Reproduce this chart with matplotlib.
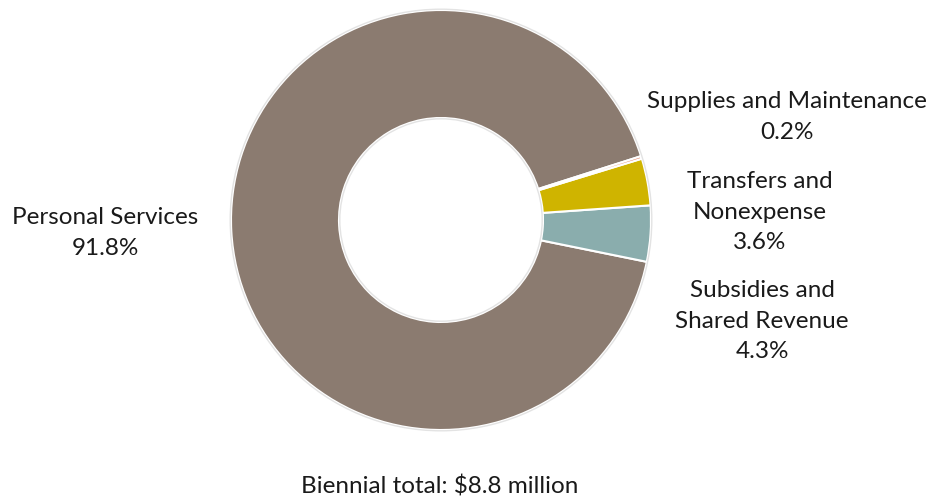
import matplotlib.pyplot as plt
from matplotlib.patches import Circle

# Budget shares (percent), drawn counterclockwise from the start angle
categories = ['Personal Services', 'Subsidies and\nShared Revenue',
              'Transfers and\nNonexpense', 'Supplies and Maintenance']
shares = [91.8, 4.3, 3.6, 0.2]
colors = ['#8b7b70', '#8aadad', '#cfb400', '#e07b5a']
total_label = 'Biennial total: $8.8 million'

plt.rcParams['font.family'] = ['Lato', 'DejaVu Sans']

fig = plt.figure(figsize=(9.34, 4.99), dpi=100)
ax = fig.add_axes([0, 0, 1, 1])

# pixel-like coordinates, y measured from the bottom
cx, cy, r, w = 441, 499 - 220, 210, 108
ax.pie(shares, colors=colors, startangle=17.7, counterclock=True,
       center=(cx, cy), radius=r,
       wedgeprops=dict(width=w, edgecolor='white', linewidth=1.5))

# faint grey rim, as in the original
for rad in (r + 0.8, r - w - 0.8):
    ax.add_patch(Circle((cx, cy), rad, fill=False, edgecolor='#e3e3e3', linewidth=1))

ax.set_xlim(0, 934)
ax.set_ylim(0, 499)
ax.set_aspect('auto')
ax.axis('off')

label_pos = {
    'Personal Services': (105, 499 - 233),
    'Subsidies and\nShared Revenue': (762, 499 - 321),
    'Transfers and\nNonexpense': (760, 499 - 212),
    'Supplies and Maintenance': (787, 499 - 117),
}
for cat, val in zip(categories, shares):
    x, y = label_pos[cat]
    ax.text(x, y, f'{cat}\n{val:.1f}%', ha='center', va='center',
            fontsize=17.5, linespacing=1.55, color='#1a1a1a')

ax.text(440, 499 - 487, total_label, ha='center', va='center',
        fontsize=17.5, color='#1a1a1a')

fig.savefig('out.png', dpi=100)
